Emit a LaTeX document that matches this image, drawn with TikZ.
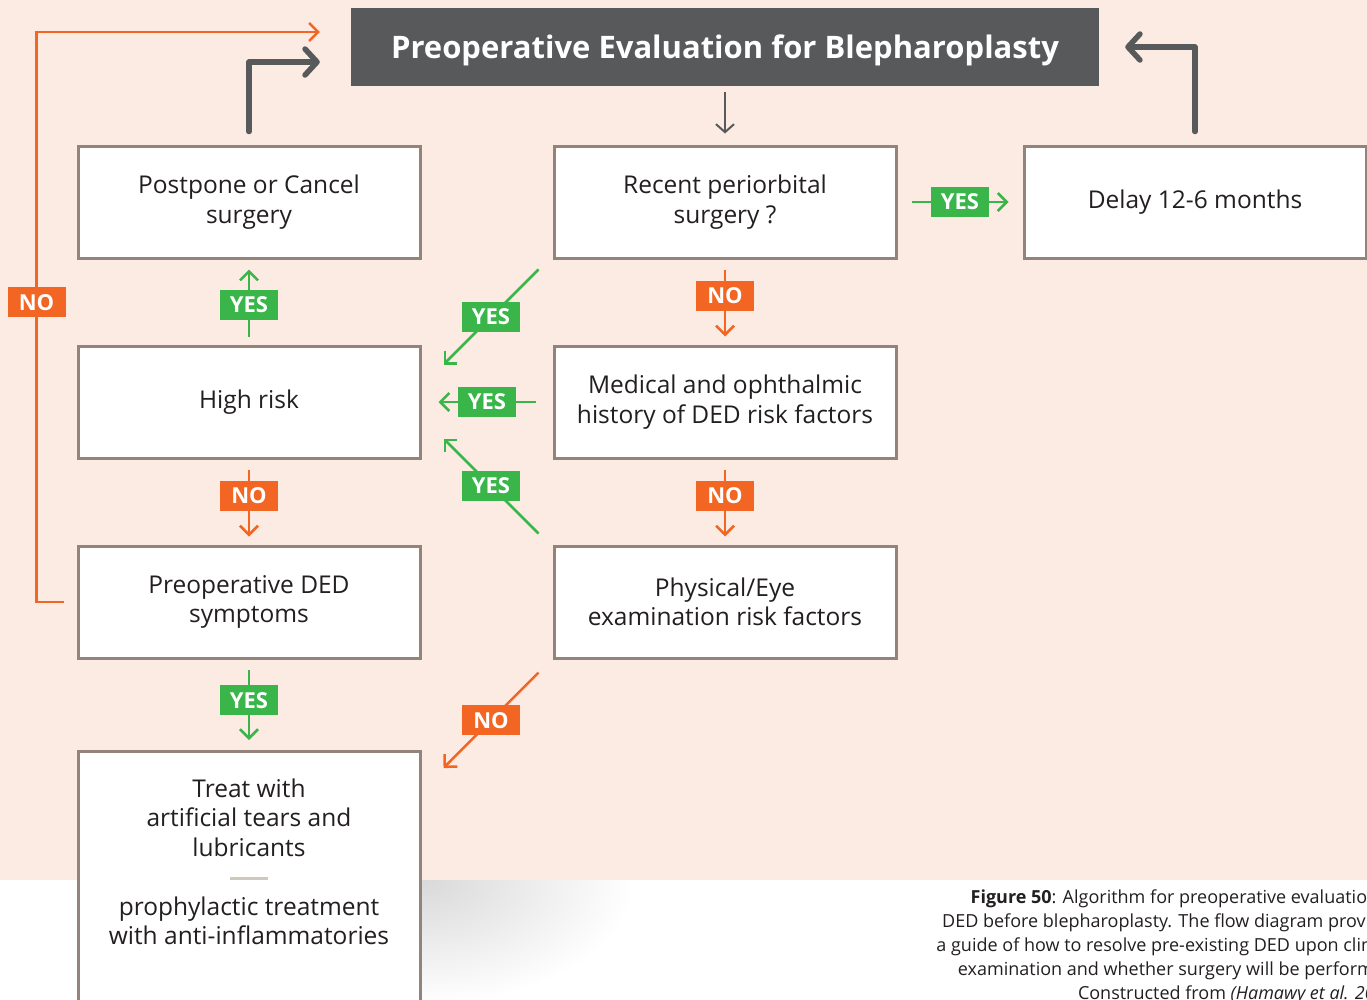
\documentclass[tikz,border=0pt]{standalone}
\usepackage{fontspec}
\setmainfont{Open Sans}
\usetikzlibrary{arrows.meta,positioning,calc}
\definecolor{bpink}{RGB}{252,235,227}
\definecolor{bgray}{RGB}{88,89,91}
\definecolor{bframe}{RGB}{146,132,122}
\definecolor{bgreen}{RGB}{57,181,74}
\definecolor{borange}{RGB}{242,101,34}
\definecolor{bdash}{RGB}{207,200,189}
\definecolor{btext}{RGB}{35,31,32}

\begin{document}
\begin{tikzpicture}[
  x=1pt, y=-1pt,
  font=\fontsize{24.5}{29.5}\selectfont,
  box/.style={draw=bframe, line width=3pt, fill=white, align=center, text=btext,
              minimum width=342pt, minimum height=112pt, inner sep=0pt},
  head/.style={fill=bgray, text=white, font=\bfseries\fontsize{31}{31}\selectfont,
               minimum width=748pt, minimum height=78pt, text height=22pt, text depth=0pt},
  yes/.style={fill=bgreen, text=white, font=\bfseries\fontsize{22}{22}\selectfont,
              minimum width=58pt, minimum height=30pt, inner sep=0pt},
  no/.style={yes, fill=borange},
  yesline/.style={-{Straight Barb[length=9pt,width=18pt]}, line width=2.5pt, draw=bgreen},
  noline/.style={yesline, draw=borange},
  back/.style={-{Straight Barb[length=12pt,width=26pt,round]}, line width=5.5pt, draw=bgray,
               line cap=round, line join=round},
  down/.style={-{Straight Barb[length=8pt,width=18pt]}, line width=2pt, draw=bgray}
]
\fill[white] (0,0) rectangle (1367,999);
\fill[bpink] (0,0) rectangle (1367,880);
\begin{scope}
  \clip (420,880) rectangle (700,999);
  \shade[inner color=black!15, outer color=white] (420,880) ellipse [x radius=215pt, y radius=125pt];
\end{scope}
\useasboundingbox (0,0) rectangle (1367,999);

\node[head] (title) at (725,47) {Preoperative Evaluation for Blepharoplasty};
\node[box] (postpone) at (249,202) {Postpone or Cancel\\surgery};
\node[box] (recent) at (725,202) {Recent periorbital\\surgery ?};
\node[box] (delay) at (1195,202) {Delay 12-6 months};
\node[box] (highrisk) at (249,402) {High risk};
\node[box] (history) at (725,402) {Medical and ophthalmic\\history of DED risk factors};
\node[box] (symptoms) at (249,602) {Preoperative DED\\symptoms};
\node[box] (exam) at (725,602) {Physical/Eye\\examination risk factors};
\node[box, minimum height=0pt, anchor=north, inner ysep=27pt] (treat) at (249,750)
  {Treat with\\artificial tears and\\lubricants\\\textcolor{bdash}{\rule[6pt]{38pt}{3pt}}\\prophylactic treatment\\with anti-inflammatories\rule[-90pt]{0pt}{0pt}};
\node[anchor=north east, align=right, inner sep=0pt, text=btext,
      font=\fontsize{18}{24}\selectfont] (caption) at (1400,890)
  {\textbf{Figure 50}: Algorithm for preoperative evaluation of\\DED before blepharoplasty. The flow diagram provides\\a guide of how to resolve pre-existing DED upon clinical\\examination and whether surgery will be performed.\\Constructed from \textit{(Hamawy et al. 2009)}};

\draw[down, shorten <=6pt, shorten >=11pt] (title) -- (recent);
\draw[back] ([yshift=13pt]postpone.north) |- ([shift={(-31pt,-15pt)}]title.west);
\draw[back] ([yshift=13pt]delay.north) |- ([xshift=26pt]title.east);
\draw[noline] ([xshift=-13pt]symptoms.west) -- ++(-27pt,0)
  |- node[no, pos=0.263]{NO} ([shift={(-31pt,15pt)}]title.west);

\draw[yesline, shorten <=14pt, shorten >=14pt] (recent) -- node[yes]{YES} (delay);
\draw[noline, shorten <=10pt, shorten >=8pt] (recent) -- node[no, pos=0.43]{NO} (history);
\draw[noline, shorten <=10pt, shorten >=8pt] (history) -- node[no, pos=0.43]{NO} (exam);
\draw[yesline, shorten <=8pt, shorten >=10pt] (highrisk) -- node[yes, pos=0.47]{YES} (postpone);
\draw[noline, shorten <=10pt, shorten >=8pt] (highrisk) -- node[no, pos=0.43]{NO} (symptoms);
\draw[yesline, shorten <=10pt, shorten >=10pt] (symptoms) -- node[yes, pos=0.45]{YES} (treat);
\draw[yesline, shorten <=17pt, shorten >=17pt] (history) -- node[yes]{YES} (highrisk);

\draw[yesline] ([shift={(-14pt,-10pt)}]recent.south west) -- node[yes]{YES} ([shift={(22pt,-20pt)}]highrisk.north east);
\draw[yesline] ([shift={(-14pt,11pt)}]exam.north west) -- node[yes]{YES} ([shift={(22pt,21pt)}]highrisk.south east);
\draw[noline] ([shift={(-14pt,-13pt)}]exam.south west) -- node[no]{NO} ([shift={(22pt,-18pt)}]treat.north east);
\end{tikzpicture}
\end{document}
